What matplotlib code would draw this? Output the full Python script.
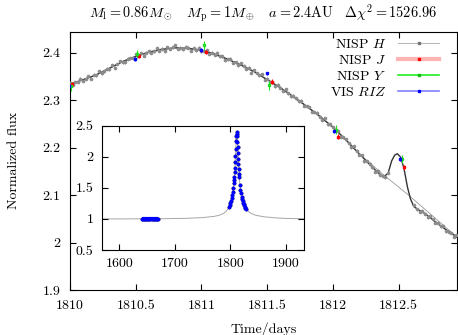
import numpy as np
import matplotlib
matplotlib.use("Agg")
import matplotlib.pyplot as plt
from matplotlib.lines import Line2D
from matplotlib.ticker import FuncFormatter

plt.rcParams['font.family'] = 'cmr10'
plt.rcParams['mathtext.fontset'] = 'cm'
plt.rcParams['axes.unicode_minus'] = False
plt.rcParams['font.size'] = 10

# NISP H light curve
h_time = [1810.00, 1810.02, 1810.04, 1810.06, 1810.08, 1810.10, 1810.12, 1810.14, 1810.16, 1810.18,
          1810.20, 1810.22, 1810.24, 1810.26, 1810.28, 1810.30, 1810.32, 1810.34, 1810.36, 1810.38,
          1810.40, 1810.42, 1810.44, 1810.46, 1810.48, 1810.50, 1810.52, 1810.54, 1810.56, 1810.58,
          1810.60, 1810.62, 1810.64, 1810.66, 1810.68, 1810.70, 1810.72, 1810.74, 1810.76, 1810.78,
          1810.80, 1810.82, 1810.84, 1810.86, 1810.88, 1810.90, 1810.92, 1810.94, 1810.96, 1810.98,
          1811.00, 1811.02, 1811.04, 1811.06, 1811.08, 1811.10, 1811.12, 1811.14, 1811.16, 1811.18,
          1811.20, 1811.22, 1811.24, 1811.26, 1811.28, 1811.30, 1811.32, 1811.34, 1811.36, 1811.38,
          1811.40, 1811.42, 1811.44, 1811.46, 1811.48, 1811.50, 1811.52, 1811.54, 1811.56, 1811.58,
          1811.60, 1811.62, 1811.64, 1811.66, 1811.68, 1811.70, 1811.72, 1811.74, 1811.76, 1811.78,
          1811.80, 1811.82, 1811.84, 1811.86, 1811.88, 1811.90, 1811.92, 1811.94, 1811.96, 1811.98,
          1812.00, 1812.02, 1812.04, 1812.06, 1812.08, 1812.10, 1812.12, 1812.14, 1812.16, 1812.18,
          1812.20, 1812.22, 1812.24, 1812.26, 1812.28, 1812.30, 1812.32, 1812.34, 1812.36, 1812.38,
          1812.40, 1812.42, 1812.62, 1812.64, 1812.66, 1812.68, 1812.70, 1812.72, 1812.74, 1812.76,
          1812.78, 1812.80, 1812.82, 1812.84, 1812.86, 1812.88, 1812.90, 1812.92, 1812.94]
h_flux = [2.335, 2.332, 2.338, 2.338, 2.345, 2.341, 2.345, 2.350, 2.345, 2.353,
          2.352, 2.361, 2.356, 2.361, 2.366, 2.365, 2.373, 2.368, 2.376, 2.382,
          2.380, 2.380, 2.387, 2.388, 2.388, 2.397, 2.393, 2.399, 2.393, 2.400,
          2.403, 2.399, 2.403, 2.409, 2.404, 2.408, 2.403, 2.411, 2.408, 2.411,
          2.416, 2.408, 2.410, 2.407, 2.412, 2.410, 2.404, 2.409, 2.405, 2.410,
          2.403, 2.403, 2.405, 2.397, 2.400, 2.395, 2.400, 2.392, 2.392, 2.384,
          2.386, 2.387, 2.379, 2.380, 2.373, 2.378, 2.372, 2.366, 2.368, 2.358,
          2.363, 2.357, 2.352, 2.354, 2.343, 2.345, 2.339, 2.337, 2.329, 2.332,
          2.326, 2.320, 2.323, 2.314, 2.308, 2.309, 2.304, 2.297, 2.299, 2.288,
          2.287, 2.285, 2.275, 2.275, 2.273, 2.265, 2.259, 2.262, 2.249, 2.249,
          2.243, 2.236, 2.235, 2.223, 2.222, 2.218, 2.209, 2.201, 2.203, 2.193,
          2.185, 2.184, 2.171, 2.171, 2.166, 2.158, 2.149, 2.151, 2.143, 2.141,
          2.137, 2.147, 2.079, 2.070, 2.065, 2.067, 2.061, 2.053, 2.055, 2.049,
          2.042, 2.042, 2.034, 2.035, 2.024, 2.023, 2.020, 2.012, 2.015]
h_err = 0.003

# NISP J, NISP Y, VIS RIZ epochs
j_time = [1810.015, 1810.525, 1811.035, 1811.535, 1812.037, 1812.542]
j_flux = [2.333, 2.393, 2.401, 2.339, 2.223, 2.158]
j_err = 0.005
y_time = [1810.005, 1810.510, 1811.016, 1811.517, 1812.025, 1812.529]
y_flux = [2.329, 2.397, 2.415, 2.331, 2.238, 2.176]
y_err = 0.009
riz_time = [1809.995, 1810.495, 1810.997, 1811.500, 1812.010, 1812.511]
riz_flux = [2.330, 2.386, 2.406, 2.356, 2.234, 2.176]
riz_err = 0.004

# planetary model
model_time = [1810.00, 1810.10, 1810.20, 1810.30, 1810.40, 1810.50, 1810.60, 1810.70, 1810.80,
              1810.90, 1811.00, 1811.10, 1811.20, 1811.30, 1811.40, 1811.50, 1811.60, 1811.70,
              1811.80, 1811.90, 1812.00, 1812.10, 1812.20, 1812.26, 1812.31, 1812.35, 1812.385,
              1812.42, 1812.447, 1812.47, 1812.49, 1812.515, 1812.54, 1812.567, 1812.59, 1812.615,
              1812.65, 1812.70, 1812.765, 1812.85, 1812.95]
model_flux = [2.333, 2.343, 2.353, 2.367, 2.381, 2.392, 2.401, 2.407, 2.410,
              2.409, 2.405, 2.397, 2.386, 2.374, 2.360, 2.343, 2.326, 2.307,
              2.287, 2.266, 2.243, 2.216, 2.187, 2.170, 2.156, 2.145, 2.138,
              2.146, 2.172, 2.184, 2.187, 2.180, 2.157, 2.117, 2.092, 2.076,
              2.069, 2.061, 2.047, 2.029, 2.010]

# single-lens model
single_time = [1810.00, 1810.20, 1810.40, 1810.60, 1810.80, 1811.00, 1811.20, 1811.40, 1811.60,
               1811.80, 1812.00, 1812.20, 1812.40, 1812.50, 1812.60, 1812.70, 1812.80, 1812.95]
single_flux = [2.333, 2.353, 2.381, 2.401, 2.410, 2.405, 2.386, 2.360, 2.326,
               2.287, 2.243, 2.187, 2.139, 2.117, 2.094, 2.070, 2.046, 2.010]

# inset: full light curve
full_time = [1568, 1620, 1680, 1720, 1750, 1770, 1780, 1788, 1794, 1798, 1800, 1802, 1804, 1806,
             1807, 1808, 1809, 1810, 1811, 1812, 1813, 1814, 1815, 1816, 1817, 1818, 1820, 1822,
             1824, 1826, 1828, 1835, 1845, 1860, 1880, 1900, 1933]
full_flux = [1.000, 1.001, 1.004, 1.010, 1.022, 1.040, 1.060, 1.090, 1.140, 1.190, 1.250, 1.330,
             1.430, 1.580, 1.680, 1.820, 2.020, 2.250, 2.400, 2.330, 2.150, 1.970, 1.800, 1.670,
             1.550, 1.470, 1.360, 1.290, 1.240, 1.200, 1.160, 1.100, 1.060, 1.035, 1.018, 1.008,
             1.003]
base_time = [1640, 1642, 1644, 1646, 1648, 1650, 1652, 1654, 1656, 1658, 1660, 1662, 1664, 1666,
             1668, 1670]
base_flux = [1.0] * len(base_time)
peak_time = [1798.0, 1799.0, 1800.0, 1801.0, 1802.0, 1803.0, 1804.0, 1805.0, 1806.0, 1806.5,
             1807.0, 1807.5, 1808.0, 1808.5, 1809.0, 1809.5, 1810.0, 1810.5, 1811.0, 1811.5,
             1812.0, 1812.5, 1813.0, 1813.5, 1814.0, 1814.5, 1815.0, 1815.5, 1816.0, 1817.0,
             1818.0, 1819.0, 1820.0, 1821.0, 1822.0, 1823.0, 1824.0, 1825.0, 1826.0, 1827.0,
             1828.0]
peak_flux = [1.190, 1.220, 1.250, 1.290, 1.330, 1.380, 1.430, 1.500, 1.580, 1.630,
             1.680, 1.750, 1.820, 1.920, 2.020, 2.130, 2.250, 2.340, 2.400, 2.370,
             2.330, 2.240, 2.150, 2.060, 1.970, 1.880, 1.800, 1.730, 1.670, 1.550,
             1.470, 1.410, 1.360, 1.320, 1.290, 1.260, 1.240, 1.220, 1.200, 1.180,
             1.160]

fmt = FuncFormatter(lambda v, p: '%g' % v)

fig = plt.figure(figsize=(4.58, 3.35), dpi=100)
ax = fig.add_axes([0.1528, 0.1343, 0.8450, 0.7711])

ax.plot(single_time, single_flux, color='0.6', lw=0.6, zorder=1)
ax.plot(model_time, model_flux, color='0.2', lw=1.0, zorder=2)
ax.errorbar(h_time, h_flux, yerr=h_err, fmt='o', ms=1.6, color='0.55', ecolor='0.55',
            elinewidth=0.6, capsize=0, zorder=3)
ax.errorbar(j_time, j_flux, yerr=j_err, fmt='s', ms=2, color='red', elinewidth=0.8,
            capsize=0, zorder=4)
ax.errorbar(y_time, y_flux, yerr=y_err, fmt='s', ms=2, color='#22dd22', elinewidth=0.8,
            capsize=0, zorder=4)
ax.errorbar(riz_time, riz_flux, yerr=riz_err, fmt='s', ms=2, color='blue', elinewidth=0.8,
            capsize=0, zorder=4)

ax.set_xlim(1810, 1812.944)
ax.set_ylim(1.9, 2.444)
ax.set_xticks([1810, 1810.5, 1811, 1811.5, 1812, 1812.5])
ax.set_yticks([1.9, 2.0, 2.1, 2.2, 2.3, 2.4])
ax.xaxis.set_major_formatter(fmt)
ax.yaxis.set_major_formatter(fmt)
ax.tick_params(direction='in', length=4, width=0.8, top=True, right=True, pad=7)
ax.set_xlabel('Time/days', labelpad=8)
ax.set_ylabel('Normalized flux', labelpad=16)
ax.set_title(r'$M_{\rm l} = 0.86M_\odot\quad M_{\rm p} = 1M_\oplus\quad a = 2.4{\rm AU}\quad'
             r'\Delta\chi^2 = 1526.96$', fontsize=10.3, pad=10)

handles = [Line2D([], [], color='0.72', lw=0.8, marker='s', ms=1.5, mfc='0.45', mec='0.45'),
           Line2D([], [], color='#ffb4b4', lw=3, marker='s', ms=2, mfc='red', mec='red'),
           Line2D([], [], color='#22ee22', lw=1.2, marker='s', ms=2, mfc='#11bb11', mec='#11bb11'),
           Line2D([], [], color='#8080ff', lw=1.2, marker='s', ms=2, mfc='blue', mec='blue')]
labels = [r'NISP $H$', r'NISP $J$', r'NISP $Y$', r'VIS $RIZ$']
ax.legend(handles, labels, loc='upper right', bbox_to_anchor=(0.9535, 0.976), frameon=False,
          markerfirst=False, handlelength=2.95, handletextpad=0.85, labelspacing=0.22,
          borderpad=0, borderaxespad=0, fontsize=10)

# inset with the whole event
ins = fig.add_axes([0.2220, 0.2537, 0.4424, 0.3710])
ins.plot(full_time, full_flux, color='0.65', lw=0.7, zorder=1)
for tt, ff in [(base_time, base_flux), (peak_time, peak_flux)]:
    ins.plot(tt, ff, 'o', ms=1.6, color='red', zorder=2)
    ins.plot(tt, ff, 'o', ms=1.6, color='#22dd22', zorder=3)
    ins.plot(tt, ff, 'o', ms=1.8, color='blue', zorder=4)
ins.plot([1640, 1670], [1.0, 1.0], color='blue', lw=3, solid_capstyle='butt', zorder=4)
ins.set_xlim(1568.3, 1932.9)
ins.set_ylim(0.5, 2.5)
ins.set_xticks([1600, 1700, 1800, 1900])
ins.set_yticks([0.5, 1.0, 1.5, 2.0, 2.5])
ins.xaxis.set_major_formatter(fmt)
ins.yaxis.set_major_formatter(fmt)
ins.tick_params(direction='in', length=4, width=0.8, top=True, right=True, pad=6)

fig.savefig('out.png', dpi=100)
